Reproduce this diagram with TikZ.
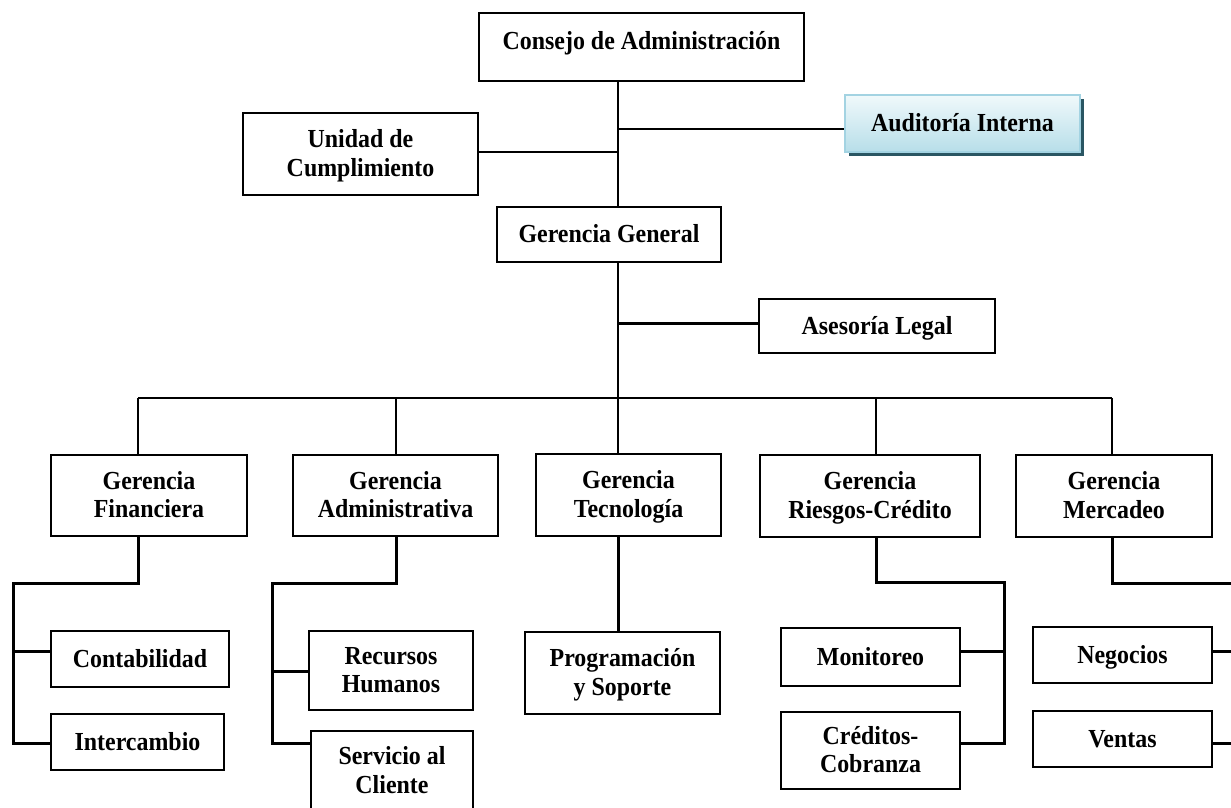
\documentclass[tikz,border=0pt]{standalone}
\usepackage{fontspec}
\setmainfont{Liberation Serif}[FakeStretch=0.92]
\usetikzlibrary{shadows}
\definecolor{audborder}{HTML}{A3D3E2}
\definecolor{audtop}{HTML}{F0F9FB}
\definecolor{audbot}{HTML}{B7DEE9}
\definecolor{audshadow}{HTML}{2A5663}
\newcommand\tline[1]{#1\rule[-5.8pt]{0pt}{27.8pt}}
\begin{document}
\begin{tikzpicture}[x=1pt,y=-1pt,
  box/.style={draw=black, line width=1.6pt, fill=white, inner sep=0pt, align=center,
    font=\bfseries\fontsize{26}{28.5}\selectfont},
  wire/.style={draw=black, line width=1.6pt},
  heavy/.style={draw=black, line width=3pt},
  auditbox/.style={box, draw=audborder, top color=audtop, bottom color=audbot,
    drop shadow={shadow xshift=4pt, shadow yshift=-4pt, fill=audshadow, opacity=1}}]
\useasboundingbox (0,0) rectangle (1231,807);

% boxes
\node[box, minimum width=325pt, minimum height=68pt, text depth=18pt] (cons) at (641.5,47) {\tline{Consejo de Administración}};
\node[box, minimum width=235pt, minimum height=82pt] (unid) at (360.5,154) {\tline{Unidad de}\\\tline{Cumplimiento}};
\node[auditbox, minimum width=235pt, minimum height=57pt] (audi) at (962.5,123.5) {\tline{Auditoría Interna}};
\node[box, minimum width=224pt, minimum height=55pt] (gg) at (609,234.5) {\tline{Gerencia General}};
\node[box, minimum width=236pt, minimum height=54pt] (ases) at (877,326) {\tline{Asesoría Legal}};

\node[box, minimum width=196pt, minimum height=81pt] (gfin) at (149,495.5) {\tline{Gerencia}\\\tline{Financiera}};
\node[box, minimum width=205pt, minimum height=81pt] (gadm) at (395.5,495.5) {\tline{Gerencia}\\\tline{Administrativa}};
\node[box, minimum width=185pt, minimum height=82pt] (gtec) at (628.5,495) {\tline{Gerencia}\\\tline{Tecnología}};
\node[box, minimum width=220pt, minimum height=82pt] (gries) at (870,496) {\tline{Gerencia}\\\tline{Riesgos-Crédito}};
\node[box, minimum width=196pt, minimum height=82pt] (gmer) at (1114,496) {\tline{Gerencia}\\\tline{Mercadeo}};

\node[box, minimum width=178pt, minimum height=56pt] (cont) at (140,659) {\tline{Contabilidad}};
\node[box, minimum width=173pt, minimum height=56pt] (inter) at (137.5,742) {\tline{Intercambio}};
\node[box, minimum width=164pt, minimum height=79pt] (rrhh) at (391,670.5) {\tline{Recursos}\\\tline{Humanos}};
\node[box, minimum width=162pt, minimum height=80pt] (serv) at (392,771) {\tline{Servicio al}\\\tline{Cliente}};
\node[box, minimum width=195pt, minimum height=82pt] (prog) at (622.5,673) {\tline{Programación}\\\tline{y Soporte}};
\node[box, minimum width=179pt, minimum height=58pt] (moni) at (870.5,657) {\tline{Monitoreo}};
\node[box, minimum width=179pt, minimum height=77pt] (cred) at (870.5,750.5) {\tline{Créditos-}\\\tline{Cobranza}};
\node[box, minimum width=179pt, minimum height=56pt] (nego) at (1122.5,655) {\tline{Negocios}};
\node[box, minimum width=179pt, minimum height=56pt] (vent) at (1122.5,739) {\tline{Ventas}};

% junction points
\coordinate (jA) at (618,129);
\coordinate (jU) at (618,152);
\coordinate (jL) at (618,323);
\coordinate (bus) at (618,398);
\coordinate (bF) at (138,398);
\coordinate (bA) at (396,398);
\coordinate (bR) at (876,398);
\coordinate (bM) at (1112,398);

% upper connectors
\draw[wire] (cons.south -| jA) -- (gg.north -| jA);
\draw[wire] (jA) -- (jA -| audi.west);
\draw[wire] (jU) -- (jU -| unid.east);
\draw[wire] (gg.south -| bus) -- (gtec.north -| bus);
\draw[heavy] (jL) -- (jL -| ases.west);
\draw[wire] (bF) -- (bM);
\draw[wire] (bF) -- (gfin.north -| bF);
\draw[wire] (bA) -- (gadm.north -| bA);
\draw[wire] (bR) -- (gries.north -| bR);
\draw[wire] (bM) -- (gmer.north -| bM);

% Financiera
\coordinate (fk) at (13,583);
\coordinate (fc) at (13,651);
\coordinate (fs) at (13,743);
\draw[heavy] (gfin.south -| bF) |- (fk) -- (fs) -- (fs -| inter.west);
\draw[heavy] (fc) -- (fc -| cont.west);

% Administrativa
\coordinate (ak) at (272,583);
\coordinate (ar) at (272,671);
\coordinate (as) at (272,743);
\draw[heavy] (gadm.south -| bA) |- (ak) -- (as) -- (as -| serv.west);
\draw[heavy] (ar) -- (ar -| rrhh.west);

% Tecnologia
\draw[heavy] (gtec.south -| bus) -- (prog.north -| bus);

% Riesgos
\coordinate (rk) at (1004,582);
\coordinate (rm) at (1004,651);
\coordinate (rs) at (1004,743);
\draw[heavy] (gries.south -| bR) |- (rk) -- (rs) -- (rs -| cred.east);
\draw[heavy] (rm) -- (rm -| moni.east);

% Mercadeo
\coordinate (mk) at (1245,583);
\coordinate (mn) at (1245,651);
\coordinate (ms) at (1245,743);
\draw[heavy] (gmer.south -| bM) |- (mk) -- (ms) -- (ms -| vent.east);
\draw[heavy] (mn) -- (mn -| nego.east);
\end{tikzpicture}
\end{document}
